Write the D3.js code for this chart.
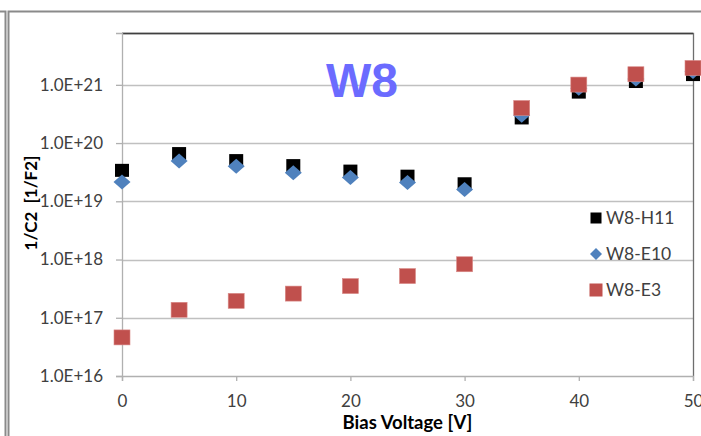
<!DOCTYPE html>
<html>
<head>
<meta charset="utf-8">
<script src="https://cdn.jsdelivr.net/npm/d3@7"></script>
<style>
	body { margin: 0; background: #fff; }
	svg { display: block; }
	.tick-label { font-family: Lato, "Open Sans", sans-serif; font-size: 17px; fill: #404040; }
</style>
</head>
<body>
<div id="chart"></div>
<script>
// bias voltage [V]
const voltage = [0, 5, 10, 15, 20, 25, 30, 35, 40, 45, 50];
// 1/C^2 values per sample
const h11 = [3.4e19, 6.6e19, 5.0e19, 4.1e19, 3.3e19, 2.7e19, 2.0e19, 2.7e20, 7.5e20, 1.14e21, 1.5e21];
const e10 = [2.15e19, 4.9e19, 4.0e19, 3.1e19, 2.55e19, 2.1e19, 1.6e19, 3.0e20, 8.7e20, 1.26e21, 1.7e21];
const e3 = [4.6e16, 1.37e17, 1.95e17, 2.6e17, 3.5e17, 5.2e17, 8.3e17, 4.0e20, 1.01e21, 1.52e21, 1.95e21];

const seriesNames = ['W8-H11', 'W8-E10', 'W8-E3'];
const xTicks = [0, 10, 20, 30, 40, 50];
const yTicks = [1e16, 1e17, 1e18, 1e19, 1e20, 1e21];
const yTickLabels = ['1.0E+16', '1.0E+17', '1.0E+18', '1.0E+19', '1.0E+20', '1.0E+21'];

const config = {
	width: 701,
	height: 436,
	margin: { top: 33, right: 8, bottom: 60, left: 122 }
};

const svg = d3.select('#chart')
	.append('svg')
	.attr('width', config.width)
	.attr('height', config.height);

// outer frame lines from the original slide
const frame = svg.append('g').attr('stroke', '#8a8a8a').attr('stroke-width', 2).attr('fill', 'none');
frame.append('path').attr('d', 'M0,11.5H5.5V436');
frame.append('path').attr('d', 'M8.5,436V11.5H701');

const innerW = config.width - config.margin.left - config.margin.right;
const innerH = config.height - config.margin.top - config.margin.bottom;

const x = d3.scaleLinear()
	.domain([0, 50])
	.range([config.margin.left, config.margin.left + innerW]);

const y = d3.scaleLog()
	.domain([1e16, Math.pow(10, 21.89)])
	.range([config.margin.top + innerH, config.margin.top]);

// gridlines
svg.append('g')
	.selectAll('line')
	.data(yTicks.slice(1))
	.join('line')
	.attr('x1', x(0))
	.attr('x2', x(50))
	.attr('y1', d => Math.round(y(d)) + 0.5)
	.attr('y2', d => Math.round(y(d)) + 0.5)
	.attr('stroke', '#c0c0c0')
	.attr('stroke-width', 1.3);

// plot area border (top / right)
svg.append('path')
	.attr('d', `M${x(0)},${y.range()[1] + 0.5}H${x(50) + 0.5}V${y.range()[0]}`)
	.attr('fill', 'none')
	.attr('stroke', '#6e6e6e')
	.attr('stroke-width', 1.3);
svg.append('line')
	.attr('x1', x(0)).attr('x2', x(50))
	.attr('y1', y.range()[1] + 0.5).attr('y2', y.range()[1] + 0.5)
	.attr('stroke', '#404040').attr('stroke-width', 1.5);

// y axis
const yAxis = svg.append('g')
	.attr('transform', `translate(${x(0)},0)`)
	.call(d3.axisLeft(y).tickValues(yTicks).tickFormat((d, i) => yTickLabels[i]).tickSize(6).tickPadding(13));
yAxis.select('.domain').attr('stroke', '#b0b0b0').attr('stroke-width', 1.3);
yAxis.selectAll('.tick line').attr('stroke', '#b0b0b0').attr('stroke-width', 1.3);
yAxis.selectAll('.tick text').attr('class', 'tick-label');

// x axis
const xAxis = svg.append('g')
	.attr('transform', `translate(0,${y(1e16)})`)
	.call(d3.axisBottom(x).tickValues(xTicks).tickSize(5).tickPadding(14));
xAxis.select('.domain').attr('stroke', '#b0b0b0').attr('stroke-width', 1.3);
xAxis.selectAll('.tick line').attr('stroke', '#b0b0b0').attr('stroke-width', 1.3);
xAxis.selectAll('.tick text').attr('class', 'tick-label');

// axis titles
svg.append('text')
	.attr('x', (x(0) + x(50)) / 2)
	.attr('y', 429)
	.attr('text-anchor', 'middle')
	.style('font-family', 'Lato, sans-serif')
	.style('font-weight', 'bold')
	.style('font-size', '18.5px')
	.text('Bias Voltage [V]');

svg.append('text')
	.attr('transform', 'translate(37,203) rotate(-90)')
	.attr('text-anchor', 'middle')
	.style('font-family', 'Lato, sans-serif')
	.style('font-weight', 'bold')
	.style('font-size', '17px')
	.style('white-space', 'pre')
	.text('1/C2  [1/F2]');

// chart title
svg.append('text')
	.attr('x', 362)
	.attr('y', 97)
	.attr('text-anchor', 'middle')
	.style('font-family', '"Liberation Sans", Arial, sans-serif')
	.style('font-weight', 'bold')
	.style('font-size', '48px')
	.attr('fill', '#6b6bff')
	.text('W8');

// markers
const squareH11 = svg.append('g');
squareH11.selectAll('rect')
	.data(voltage.map((v, i) => ({ v, c: h11[i] })))
	.join('rect')
	.attr('x', d => x(d.v) - 7)
	.attr('y', d => y(d.c) - 6.5)
	.attr('width', 14)
	.attr('height', 13)
	.attr('fill', '#000');

const diamondE10 = svg.append('g');
diamondE10.selectAll('path')
	.data(voltage.map((v, i) => ({ v, c: e10[i] })))
	.join('path')
	.attr('d', d => {
		const cx = x(d.v), cy = y(d.c);
		return `M${cx},${cy - 7.5}L${cx + 8.5},${cy}L${cx},${cy + 7.5}L${cx - 8.5},${cy}Z`;
	})
	.attr('fill', '#4f81bd');

const squareE3 = svg.append('g');
squareE3.selectAll('rect')
	.data(voltage.map((v, i) => ({ v, c: e3[i] })))
	.join('rect')
	.attr('x', d => x(d.v) - 8)
	.attr('y', d => y(d.c) - 7.5)
	.attr('width', 16)
	.attr('height', 15)
	.attr('fill', '#c0504d')
	.attr('stroke', '#d98a88')
	.attr('stroke-width', 0.6);

// legend
const legend = svg.append('g').attr('transform', 'translate(596,0)');
const legendRows = legend.selectAll('g')
	.data(seriesNames)
	.join('g')
	.attr('transform', (d, i) => `translate(0,${218 + i * 36})`);

legendRows.each(function (d, i) {
	const g = d3.select(this);
	if (i === 0) {
		g.append('rect').attr('x', -5.5).attr('y', -5.5).attr('width', 11).attr('height', 11).attr('fill', '#000');
	} else if (i === 1) {
		g.append('path').attr('d', 'M0,-6L6,0L0,6L-6,0Z').attr('fill', '#4f81bd');
	} else {
		g.append('rect').attr('x', -6.5).attr('y', -6.5).attr('width', 13).attr('height', 13).attr('fill', '#c0504d');
	}
	g.append('text')
		.attr('x', 10)
		.attr('y', 6)
		.attr('class', 'tick-label')
		.style('font-size', '17.5px')
		.text(d);
});
</script>
</body>
</html>
